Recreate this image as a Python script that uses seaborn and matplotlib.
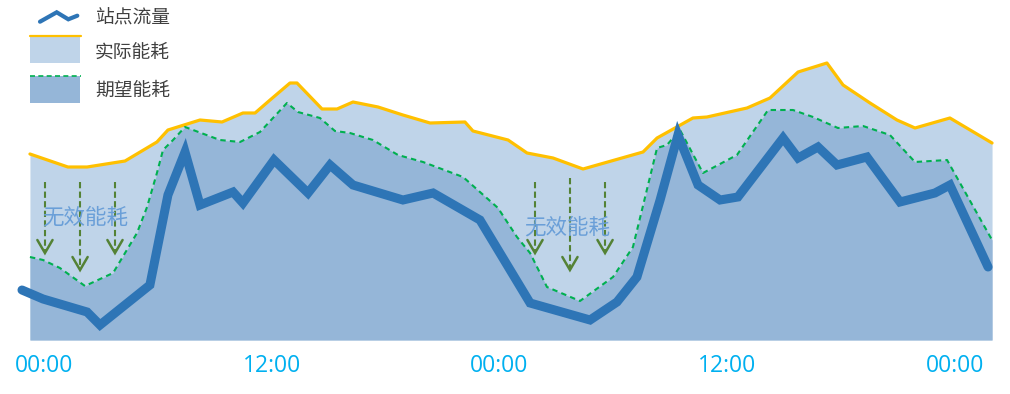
import numpy as np
import pandas as pd
import matplotlib
matplotlib.use("Agg")
import matplotlib.pyplot as plt
import seaborn as sns
from matplotlib.patches import Rectangle
from matplotlib.lines import Line2D

# ---------------- data ----------------
# actual energy (实际能耗): hours, value
actual_h = [-0.74, 1.26, 2.27, 4.27, 5.95, 6.53, 8.22, 9.38, 10.48, 11.12, 11.91, 12.96, 13.33,
            14.65, 15.44, 16.28, 17.60, 18.91, 20.34, 22.18, 22.60, 24.45, 25.45, 26.82, 28.40,
            31.56, 32.30, 34.19, 34.93, 37.04, 38.25, 39.73, 41.25, 42.10, 43.52, 44.94, 45.89,
            47.73, 49.95]
actual_v = [186, 173, 173, 179, 198, 210, 220, 218, 227, 227, 240, 257, 257,
            231, 231, 238, 233, 225, 217, 218, 209, 200, 187, 182, 171,
            188, 202, 222, 223, 232, 242, 268, 277, 255, 237, 220, 212,
            222, 197]

# expected energy (期望能耗)
expect_h = [-0.74, -0.05, 0.84, 2.16, 3.64, 4.90, 5.43, 5.95, 6.27, 6.80, 7.43, 9.27, 10.33,
            11.38, 12.80, 13.38, 14.54, 15.33, 16.12, 17.33, 18.65, 19.97, 22.08, 23.92, 24.92,
            25.61, 26.50, 28.24, 29.98, 31.03, 32.30, 32.82, 33.51, 34.72, 36.51, 38.15, 39.46,
            40.52, 41.83, 43.15, 44.57, 45.89, 47.58, 49.95]
expect_v = [83, 80, 72, 54, 67, 107, 133, 167, 190, 200, 213, 200, 198,
            208, 237, 228, 222, 209, 207, 200, 185, 178, 163, 132, 103,
            87, 53, 39, 63, 93, 192, 195, 210, 167, 185, 230, 230,
            223, 212, 214, 205, 178, 180, 100]

# station flow (站点流量)
flow_h = [-1.16, -0.05, 2.27, 2.95, 5.58, 6.53, 7.43, 8.22, 9.96, 10.48, 12.12, 13.91, 15.07,
          16.28, 18.91, 20.50, 22.97, 25.61, 28.77, 30.19, 31.24, 32.46, 33.40, 34.46, 35.62,
          36.56, 38.94, 39.73, 40.78, 41.78, 43.36, 45.10, 46.94, 47.73, 49.74]
flow_v = [50, 41, 28, 15, 55, 145, 188, 135, 148, 137, 180, 147, 175,
          155, 140, 147, 120, 37, 20, 38, 63, 140, 205, 155, 140,
          143, 202, 182, 193, 175, 183, 138, 147, 155, 73]

tick_hours = [0, 12, 24, 36, 48]
tick_labels = ["00:00", "12:00", "00:00", "12:00", "00:00"]

series_names = ["站点流量", "实际能耗", "期望能耗"]
waste_label = "无效能耗"
waste_text_pos = [(2.16, 122), (27.56, 112)]
arrow_x = [0.05, 1.90, 3.74, 25.87, 27.71, 29.56]
arrow_top = [158, 158, 158, 158, 162, 158]
arrow_tip = [87, 70, 87, 87, 70, 87]

# ---------------- style ----------------
C_LIGHT = "#BFD4E9"
C_DARK = "#95B6D8"
C_FLOW = "#2E75B6"
C_YEL = "#FFC000"
C_GREEN = "#00B050"
C_ARROW = "#548235"
C_TICK = "#00B0F0"

sns.set_theme(style="white")
plt.rcParams["font.family"] = ["Noto Sans CJK SC", "DejaVu Sans"]

fig = plt.figure(figsize=(10.10, 3.94), dpi=100)
ax = fig.add_axes([0, 54 / 394, 1, 340 / 394])

df_a = pd.DataFrame({"h": actual_h, "v": actual_v})
df_e = pd.DataFrame({"h": expect_h, "v": expect_v})
df_f = pd.DataFrame({"h": flow_h, "v": flow_v})

ax.fill_between(df_a["h"], 0, df_a["v"], color=C_LIGHT, lw=0, zorder=1)
ax.fill_between(df_e["h"], 0, df_e["v"], color=C_DARK, lw=0, zorder=2)

sns.lineplot(data=df_a, x="h", y="v", ax=ax, color=C_YEL, linewidth=2.3,
             sort=False, estimator=None, zorder=3)
sns.lineplot(data=df_e, x="h", y="v", ax=ax, color=C_GREEN, linewidth=1.5,
             sort=False, estimator=None, zorder=3)
ax.lines[-1].set_dashes([2.6, 2.0])
sns.lineplot(data=df_f, x="h", y="v", ax=ax, color=C_FLOW, linewidth=6.5,
             sort=False, estimator=None, zorder=5)
ax.lines[-1].set_solid_joinstyle("miter")

# waste-energy arrows
for x, t0, t1 in zip(arrow_x, arrow_top, arrow_tip):
    ax.plot([x, x], [t0, t1 + 1], color=C_ARROW, lw=1.5, dashes=[3, 1.6], zorder=4)
    ax.plot([x - 0.40, x, x + 0.40], [t1 + 13, t1, t1 + 13], color=C_ARROW,
            lw=1.8, solid_joinstyle="miter", zorder=4)
for (tx, ty) in waste_text_pos:
    ax.text(tx, ty, waste_label, ha="center", va="center", fontsize=15.5,
            color="#6A9FD8", zorder=6)

ax.set_xlim(-44 / 18.98, 966 / 18.98)
ax.set_ylim(0, 340)
ax.set_xticks(tick_hours)
ax.set_xticklabels(tick_labels, fontsize=16.5, color=C_TICK,
                   family=["Open Sans", "Liberation Sans", "DejaVu Sans"])
ax.set_yticks([])
ax.tick_params(axis="x", length=0, pad=10)
for s in ax.spines.values():
    s.set_visible(False)
ax.set_xlabel("")
ax.set_ylabel("")
ax.patch.set_alpha(0)

# legend drawn in pixel coordinates
lg = fig.add_axes([0, 0, 1, 1], zorder=10)
lg.set_xlim(0, 1010)
lg.set_ylim(394, 0)
lg.axis("off")
lg.patch.set_alpha(0)
lg.add_line(Line2D([40, 56.7, 68.3, 77.3], [21.7, 12.3, 19.3, 15.7], color=C_FLOW, lw=3,
                   solid_joinstyle="miter"))
lg.add_patch(Rectangle((30, 35.5), 50, 27.5, facecolor=C_LIGHT, edgecolor="none"))
lg.add_line(Line2D([30, 81], [35.5, 35.5], color=C_YEL, lw=1.6))
lg.add_patch(Rectangle((30, 76), 50, 27, facecolor=C_DARK, edgecolor="none"))
lg.add_line(Line2D([30, 81], [75.8, 75.8], color=C_GREEN, lw=1.2, dashes=[3, 2]))
for name, yy in zip(series_names, [18.3, 52.7, 90]):
    lg.text(95, yy, name, ha="left", va="center", fontsize=13.5, color="#404040")

fig.savefig("out.png", dpi=100, facecolor="white")
